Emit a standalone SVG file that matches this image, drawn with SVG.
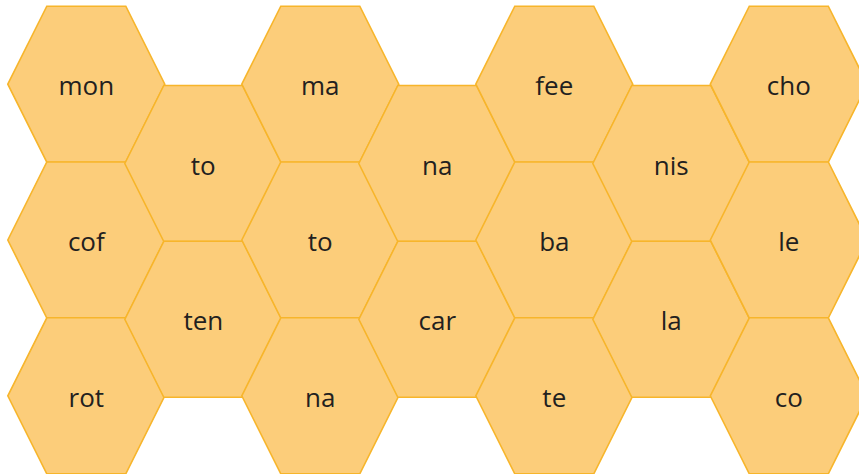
<svg xmlns="http://www.w3.org/2000/svg" xmlns:xlink="http://www.w3.org/1999/xlink" width="859" height="474" viewBox="0 0 859 474">
<style>
.hex{fill:#FCCD7A;stroke:#F7B52B;stroke-width:1.6;stroke-linejoin:miter}
.lbl{font-family:"Open Sans","Noto Sans","Liberation Sans",sans-serif;font-size:26px;fill:#231F20;text-anchor:middle}
</style>
<defs>
<polygon id="hexshape" class="hex" points="-78.5,0 -39.5,-78 39.5,-78 78.5,0 39.5,78 -39.5,78"/>
</defs>
<rect width="859" height="474" fill="#FFFFFF"/>
<g id="n-mon" transform="translate(86.3,84.2)"><use xlink:href="#hexshape"/><text class="lbl" y="11">mon</text></g>
<g id="n-cof" transform="translate(86.3,240)"><use xlink:href="#hexshape"/><text class="lbl" y="11">cof</text></g>
<g id="n-rot" transform="translate(86.3,395.8)"><use xlink:href="#hexshape"/><text class="lbl" y="11">rot</text></g>
<g id="n-to1" transform="translate(203.3,163.5)"><use xlink:href="#hexshape"/><text class="lbl" y="11">to</text></g>
<g id="n-ten" transform="translate(203.3,319.3)"><use xlink:href="#hexshape"/><text class="lbl" y="11">ten</text></g>
<g id="n-ma" transform="translate(320.3,84.2)"><use xlink:href="#hexshape"/><text class="lbl" y="11">ma</text></g>
<g id="n-to2" transform="translate(320.3,240)"><use xlink:href="#hexshape"/><text class="lbl" y="11">to</text></g>
<g id="n-na1" transform="translate(320.3,395.8)"><use xlink:href="#hexshape"/><text class="lbl" y="11">na</text></g>
<g id="n-na2" transform="translate(437.3,163.5)"><use xlink:href="#hexshape"/><text class="lbl" y="11">na</text></g>
<g id="n-car" transform="translate(437.3,319.3)"><use xlink:href="#hexshape"/><text class="lbl" y="11">car</text></g>
<g id="n-fee" transform="translate(554.3,84.2)"><use xlink:href="#hexshape"/><text class="lbl" y="11">fee</text></g>
<g id="n-ba" transform="translate(554.3,240)"><use xlink:href="#hexshape"/><text class="lbl" y="11">ba</text></g>
<g id="n-te" transform="translate(554.3,395.8)"><use xlink:href="#hexshape"/><text class="lbl" y="11">te</text></g>
<g id="n-nis" transform="translate(671.3,163.5)"><use xlink:href="#hexshape"/><text class="lbl" y="11">nis</text></g>
<g id="n-la" transform="translate(671.3,319.3)"><use xlink:href="#hexshape"/><text class="lbl" y="11">la</text></g>
<g id="n-cho" transform="translate(788.8,84.2)"><use xlink:href="#hexshape"/><text class="lbl" y="11">cho</text></g>
<g id="n-le" transform="translate(788.8,240)"><use xlink:href="#hexshape"/><text class="lbl" y="11">le</text></g>
<g id="n-co" transform="translate(788.8,395.8)"><use xlink:href="#hexshape"/><text class="lbl" y="11">co</text></g>
<g id="connectors"></g>
</svg>
